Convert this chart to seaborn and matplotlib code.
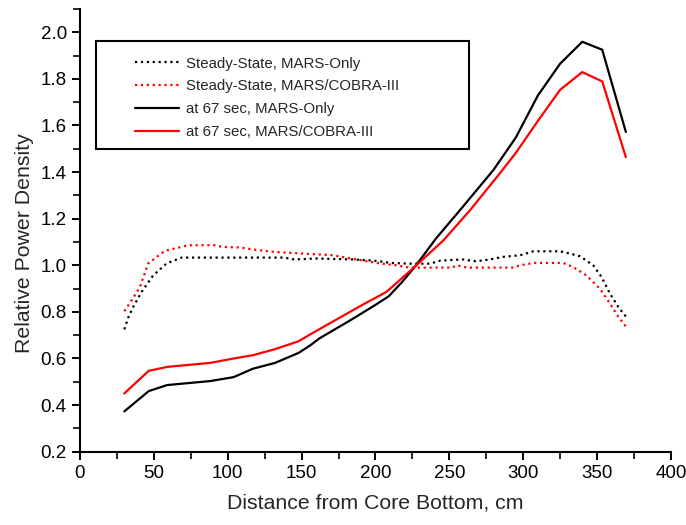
import numpy as np
import pandas as pd
import matplotlib
matplotlib.use("Agg")
import matplotlib.pyplot as plt
from matplotlib.patches import Rectangle
from matplotlib.ticker import MultipleLocator, FormatStrFormatter
import seaborn as sns

# ---- data ----
ss_mars_x = [30, 32.7, 36, 41.7, 49.6, 58.7, 68.8, 90, 110, 138, 145, 160, 185, 201, 210, 223, 237, 244,
             259, 268, 277.5, 286.5, 298, 307, 325, 331.6, 338.4, 347.4, 353, 358.7, 364.4, 370]
ss_mars_y = [0.725, 0.776, 0.821, 0.886, 0.957, 1.008, 1.033, 1.033, 1.033, 1.033, 1.025, 1.029, 1.025,
             1.019, 1.01, 1.007, 1.007, 1.02, 1.025, 1.017, 1.025, 1.036, 1.043, 1.06, 1.06, 1.05, 1.039,
             1.0, 0.95, 0.879, 0.821, 0.776]

ss_cobra_x = [30, 35, 40.6, 46.2, 57.5, 73.3, 91.4, 96, 109, 118, 132, 152, 171, 187, 203, 214, 223, 252,
              255, 262, 293, 298, 307, 327, 333.7, 342.8, 351.9, 358.7, 364.4, 370]
ss_cobra_y = [0.803, 0.85, 0.907, 1.008, 1.062, 1.086, 1.086, 1.079, 1.076, 1.067, 1.057, 1.05, 1.043,
              1.025, 1.008, 1.0, 0.99, 0.99, 1.0, 0.99, 0.99, 1.0, 1.01, 1.01, 0.993, 0.957, 0.9, 0.836,
              0.779, 0.733]

t67_mars_x = [30, 46.5, 59, 88, 104, 117, 132, 148, 156, 162, 183, 200, 209, 218, 227, 241, 259, 280, 295,
              310, 325, 340, 353.5, 369.5]
t67_mars_y = [0.373, 0.46, 0.486, 0.503, 0.52, 0.556, 0.581, 0.624, 0.657, 0.686, 0.764, 0.83, 0.867,
              0.928, 0.996, 1.115, 1.25, 1.41, 1.548, 1.729, 1.865, 1.959, 1.925, 1.572]

t67_cobra_x = [30, 46.5, 59, 88, 104, 117, 132, 148, 156, 192, 207.5, 227, 246, 264, 284, 295, 310, 325,
               340, 353.5, 369.5]
t67_cobra_y = [0.45, 0.547, 0.564, 0.581, 0.6, 0.614, 0.64, 0.674, 0.704, 0.833, 0.886, 0.996, 1.107,
               1.236, 1.393, 1.482, 1.62, 1.753, 1.829, 1.789, 1.464]

labels = ["Steady-State, MARS-Only", "Steady-State, MARS/COBRA-III",
          "at 67 sec, MARS-Only", "at 67 sec, MARS/COBRA-III"]
colors = ["black", "red", "black", "red"]
styles = [":", ":", "-", "-"]

xlabel = "Distance from Core Bottom, cm"
ylabel = "Relative Power Density"

# ---- plot ----
sns.set_style("ticks")
plt.rcParams["font.family"] = ["Liberation Sans", "DejaVu Sans"]

fig = plt.figure(figsize=(6.86, 5.25), dpi=100)
ax = fig.add_axes([0.1166, 0.1396, 0.978 - 0.1166, 0.983 - 0.1396])

series = [(ss_mars_x, ss_mars_y), (ss_cobra_x, ss_cobra_y),
          (t67_mars_x, t67_mars_y), (t67_cobra_x, t67_cobra_y)]
for (xs, ys), lab, c, ls in zip(series, labels, colors, styles):
    df = pd.DataFrame({"x": xs, "y": ys})
    sns.lineplot(data=df, x="x", y="y", ax=ax, color=c, linestyle=ls,
                 linewidth=1.6, label=lab, sort=False, estimator=None)

ax.set_xlim(0, 400)
ax.set_ylim(0.2, 2.1)
ax.xaxis.set_major_locator(MultipleLocator(50))
ax.xaxis.set_minor_locator(MultipleLocator(25))
ax.yaxis.set_major_locator(MultipleLocator(0.2))
ax.yaxis.set_minor_locator(MultipleLocator(0.1))
ax.yaxis.set_major_formatter(FormatStrFormatter("%.1f"))
ax.tick_params(which="major", direction="out", length=6, width=1.4, labelsize=13.5, colors="black")
ax.tick_params(which="minor", direction="out", length=5, width=1.4)
for s in ["top", "right"]:
    ax.spines[s].set_visible(False)
for s in ["left", "bottom"]:
    ax.spines[s].set_linewidth(1.5)
    ax.spines[s].set_color("black")

ax.set_xlabel(xlabel, fontsize=15.3, labelpad=8)
ax.set_ylabel(ylabel, fontsize=15.3, labelpad=5)
ax.yaxis.label.set_y(0.47)

# legend box
x0 = (96 - 80) / 591
x1 = (469 - 80) / 591
ytop = (451.7 - 41) / 442.7
ybot = (451.7 - 149) / 442.7
ax.add_patch(Rectangle((x0, ybot), x1 - x0, ytop - ybot, transform=ax.transAxes,
                       fill=True, facecolor="white", edgecolor="black", linewidth=1.5, zorder=5))
leg = ax.legend(loc="upper left", bbox_to_anchor=(x0 + 0.056, ytop - 0.022), borderaxespad=0,
                frameon=False, fontsize=10.8, handlelength=2.9, handletextpad=0.5, labelspacing=0.58)
leg.set_zorder(6)

fig.savefig("out.png", dpi=100)
